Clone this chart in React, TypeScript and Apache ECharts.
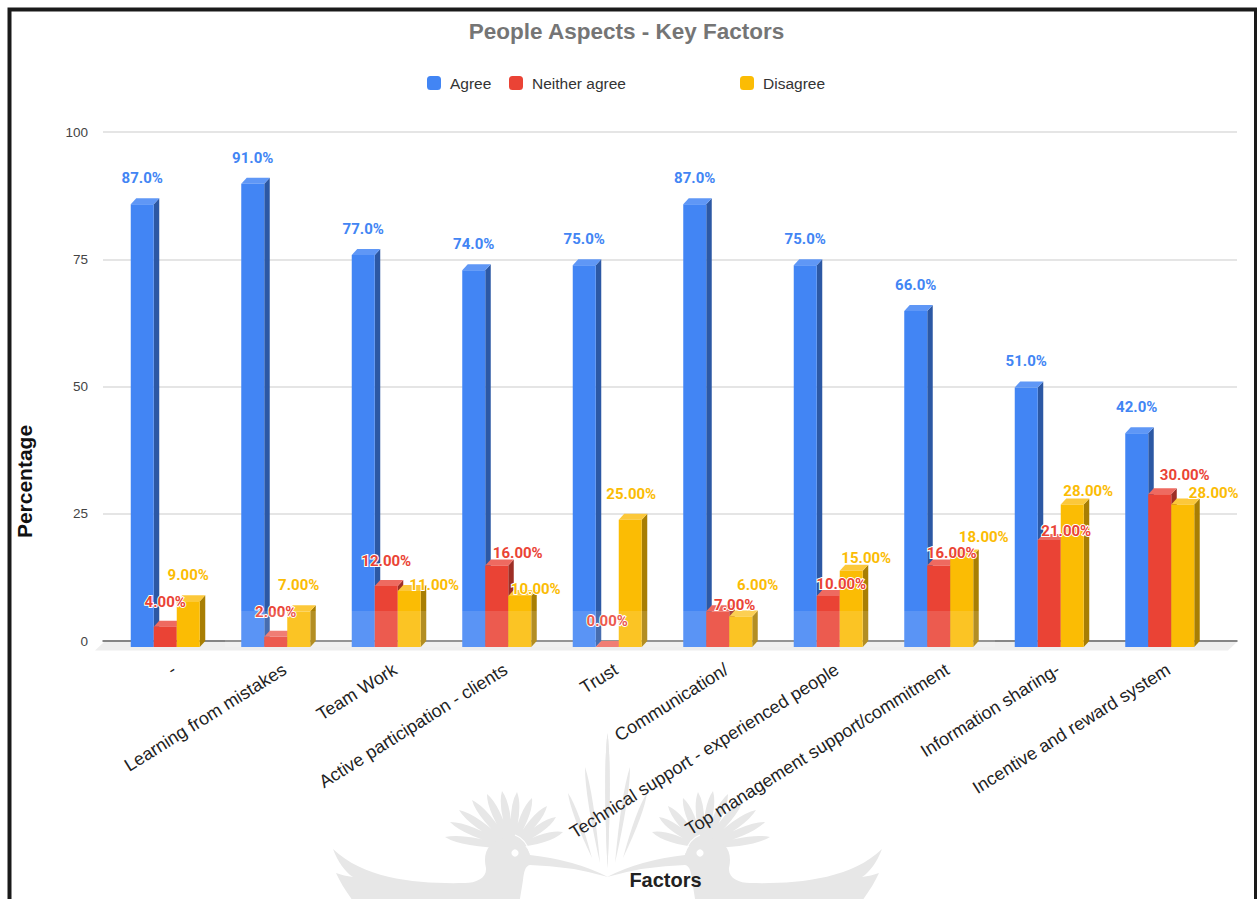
import { useEffect, useRef } from "react";
import * as echarts from "echarts";

const categories = [
  "-",
  "Learning from mistakes",
  "Team Work",
  "Active participation - clients",
  "Trust",
  "Communication/",
  "Technical support - experienced people",
  "Top management support/commitment",
  "Information sharing-",
  "Incentive and reward system",
];
const agree = [87, 91, 77, 74, 75, 87, 75, 66, 51, 42];
const neitherAgree = [4, 2, 12, 16, 0, 7, 10, 16, 21, 30];
const disagree = [9, 7, 11, 10, 25, 6, 15, 18, 28, 28];
const yTicks = { min: 0, max: 100, step: 25 };

// Value labels are pushed aside where they would collide: [dx, dy] per category.
const agreeLabelShift = categories.map(() => [0, 0]);
const neitherLabelShift = [
  [0, 1], [0, 1], [0, 1], [21, 13], [0, 0], [17, 20], [13, 14], [13, 13], [17, 17], [25, 7],
];
const disagreeLabelShift = [
  [0, 0], [0, 0], [25, 20], [16, 19], [1, 0], [17, -5], [15, 13], [22, 8], [16, 13], [31, 15],
];

const FONT = "'Liberation Sans', Arial, sans-serif";
const LABEL_FONT = "Roboto, sans-serif";

// Oblique extrusion of each bar, in pixels.
const DEPTH_X = 5.5;
const DEPTH_Y = 6;
const BAR_WIDTH = 23;

// Leaf outline running from a base point to a tip, used for the crest and the fan.
function leaf(bx: number, by: number, tx: number, ty: number, w: number) {
  const dx = tx - bx;
  const dy = ty - by;
  const len = Math.hypot(dx, dy);
  const nx = (-dy / len) * w;
  const ny = (dx / len) * w;
  const cx = bx + dx * 0.72;
  const cy = by + dy * 0.72;
  return `M${bx} ${by}Q${cx + nx} ${cy + ny} ${tx} ${ty}Q${cx - nx} ${cy - ny} ${bx} ${by}Z`;
}

const crestTips = [
  [445, 837], [450, 822], [459, 810], [472, 800], [487, 794], [502, 791],
  [517, 792], [532, 798], [547, 806], [556, 817], [563, 832],
];
const crestPath = crestTips.map(([x, y]) => leaf(512, 848, x, y, 8)).join("");
const fanPath = [
  leaf(607.5, 868, 607.5, 733, 4.5),
  leaf(600, 863, 585, 767, 4.5),
  leaf(592, 858, 568, 793, 4.5),
].join("");
const bodyPath =
  "M608 877Q575 860 530 855C529 846 518 838 505 838C490 840 482 852 486 868" +
  "C487 878 476 883 465 883C420 884 365 880 333 849C338 862 345 872 353 877" +
  "C347 876 341 875 336 873C341 884 347 893 356 905L519 905L523 880" +
  "C524 872 525 866 530 865Q570 866 608 877Z";

echarts.graphic.registerShape("hoopoeBody", echarts.graphic.extendPath(bodyPath, {}) as any);
echarts.graphic.registerShape("hoopoeCrest", echarts.graphic.extendPath(crestPath, {}) as any);
echarts.graphic.registerShape("hoopoeFan", echarts.graphic.extendPath(fanPath, {}) as any);

function watermarkBird(mirrored: boolean) {
  const fill = "#e7e7e7";
  return {
    type: "group",
    x: mirrored ? 1215 : 0,
    scaleX: mirrored ? -1 : 1,
    silent: true,
    z: -10,
    children: [
      { type: "hoopoeFan", style: { fill }, z: -10 },
      { type: "hoopoeCrest", style: { fill }, z: -10 },
      { type: "hoopoeBody", style: { fill }, z: -10 },
      {
        type: "bezierCurve",
        shape: { x1: 515, y1: 835, x2: 530, y2: 853, cpx1: 526, cpy1: 839 },
        style: { stroke: "#ffffff", lineWidth: 1.2, fill: "none" },
        z: -9,
      },
      { type: "circle", shape: { cx: 515, cy: 853, r: 3.6 }, style: { fill: "#ffffff" }, z: -9 },
    ],
  };
}

// A bar is a front face, a top and a side; the axis value marks its rear top edge.
function prismSeries(
  name: string,
  values: number[],
  labelShift: number[][],
  slot: number,
  front: string,
  top: string,
  side: string,
  digits: number,
) {
  return {
    name,
    type: "custom",
    xAxisIndex: 1,
    yAxisIndex: 1,
    z: 3,
    clip: false,
    itemStyle: { color: front },
    data: values.map((v, i) => [i, v]),
    encode: { x: 0, y: 1 },
    renderItem: (params: any, api: any) => {
      const value = api.value(1);
      const [cx, rearTop] = api.coord([api.value(0), value]);
      const [, rearBottom] = api.coord([api.value(0), 0]);
      const x1 = cx - DEPTH_X + (slot - 1.5) * BAR_WIDTH;
      const x2 = x1 + BAR_WIDTH;
      const yTop = rearTop + DEPTH_Y;
      const yBottom = rearBottom + DEPTH_Y;
      const [shiftX, shiftY] = labelShift[params.dataIndex];
      const children: any[] = [
        {
          type: "polygon",
          shape: {
            points: [
              [x2, yTop],
              [x2 + DEPTH_X, rearTop],
              [x2 + DEPTH_X, rearBottom],
              [x2, yBottom],
            ],
          },
          style: { fill: side },
        },
        {
          type: "polygon",
          shape: {
            points: [
              [x1, yTop],
              [x1 + DEPTH_X, rearTop],
              [x2 + DEPTH_X, rearTop],
              [x2, yTop],
            ],
          },
          style: { fill: top },
        },
      ];
      if (value > 0) {
        children.push({
          type: "rect",
          shape: { x: x1, y: yTop, width: BAR_WIDTH, height: yBottom - yTop },
          style: { fill: front },
        });
      }
      children.push({
        type: "text",
        z2: 100 + (slot === 1 ? 10 : slot),
        style: {
          text: `${value.toFixed(digits)}%`,
          x: x1 + BAR_WIDTH / 2 + shiftX,
          y: rearTop - 20 + shiftY,
          align: "center",
          verticalAlign: "middle",
          fill: front,
          font: `700 15px ${LABEL_FONT}`,
          stroke: slot === 0 ? undefined : "#ffffff",
          lineWidth: slot === 0 ? 0 : 2,
        },
      });
      return { type: "group", children };
    },
  };
}

export default function App() {
  const ref = useRef<HTMLDivElement>(null);

  useEffect(() => {
    const chart = echarts.init(ref.current!, undefined, { renderer: "svg" });
    const legendBase = {
      top: 75,
      icon: "roundRect",
      itemWidth: 14,
      itemHeight: 14,
      textStyle: { fontFamily: FONT, fontSize: 15.5, color: "#333333", padding: [0, 0, 0, 4] },
      selectedMode: false,
      padding: 0,
    };
    chart.setOption({
      animation: false,
      backgroundColor: "#ffffff",
      title: {
        text: "People Aspects - Key Factors",
        left: 621.5,
        top: 15,
        textAlign: "center",
        textStyle: { fontFamily: FONT, fontSize: 22.5, fontWeight: "bold", color: "#757575" },
      },
      legend: [
        { ...legendBase, left: 427, data: ["Agree"] },
        { ...legendBase, left: 509, data: ["Neither agree"] },
        { ...legendBase, left: 740, data: ["Disagree"] },
      ],
      grid: [
        { left: 103, right: 20, top: 132, bottom: 258, outerBoundsMode: "none" },
        { left: 115.5, width: 1105, top: 132, bottom: 258, outerBoundsMode: "none" },
      ],
      xAxis: [
        {
          type: "value",
          gridIndex: 0,
          min: 0,
          max: 1,
          axisLine: { show: true, onZero: true, lineStyle: { color: "#666666", width: 1.5 } },
          axisTick: { show: false },
          axisLabel: { show: false },
          splitLine: { show: false },
        },
        {
          type: "category",
          gridIndex: 1,
          data: categories,
          axisLine: { show: false },
          axisTick: { show: false },
          axisLabel: {
            interval: 0,
            rotate: 32,
            margin: 29,
            padding: [0, -4, 0, 0],
            fontFamily: FONT,
            fontSize: 18,
            color: "#222222",
          },
          name: "Factors",
          nameLocation: "middle",
          nameGap: 229,
          nameTextStyle: {
            fontFamily: FONT,
            fontSize: 20,
            fontWeight: "bold",
            color: "#222222",
            padding: [0, 5, 0, 0],
          },
        },
      ],
      yAxis: [
        {
          type: "value",
          gridIndex: 0,
          min: yTicks.min,
          max: yTicks.max,
          interval: yTicks.step,
          axisLine: { show: false },
          axisTick: { show: false },
          axisLabel: { margin: 15, fontFamily: FONT, fontSize: 13.5, color: "#444444" },
          splitLine: { lineStyle: { color: "#dddddd", width: 1.5 } },
          name: "Percentage",
          nameLocation: "middle",
          nameGap: 68,
          nameTextStyle: {
            fontFamily: FONT,
            fontSize: 21,
            fontWeight: "bold",
            color: "#111111",
            padding: [0, 190, 0, 0],
          },
        },
        {
          type: "value",
          gridIndex: 1,
          min: yTicks.min,
          max: yTicks.max,
          interval: yTicks.step,
          show: false,
        },
      ],
      series: [
        prismSeries("Agree", agree, agreeLabelShift, 0, "#4285F4", "#5F97F6", "#2C58A4", 1),
        prismSeries("Neither agree", neitherAgree, neitherLabelShift, 1, "#EA4335", "#EE6A60", "#9E2E25", 2),
        prismSeries("Disagree", disagree, disagreeLabelShift, 2, "#FBBC04", "#FCC83A", "#A87E03", 2),
      ],
      graphic: {
        elements: [
          watermarkBird(false),
          watermarkBird(true),
          // Floor under the plot
          {
            type: "polygon",
            silent: true,
            z: -5,
            shape: { points: [[104, 642], [1237, 642], [1228, 650.5], [95, 650.5]] },
            style: { fill: "#eeeeee" },
          },
          // Translucent strip over the bottom of the middle bars
          {
            type: "rect",
            silent: true,
            z: 50,
            shape: { x: 225, y: 611, width: 770, height: 36 },
            style: { fill: "rgba(255,255,255,0.13)" },
          },
          // Page frame, open at the bottom
          {
            type: "polyline",
            silent: true,
            z: 60,
            shape: { points: [[9.5, 899], [9.5, 9.5], [1256, 9.5], [1256, 899]] },
            style: { stroke: "#1a1a1a", lineWidth: 4, fill: "none" },
          },
        ],
      },
    });
    return () => chart.dispose();
  }, []);

  return <div ref={ref} style={{ position: "fixed", left: 0, top: 0, width: 1257, height: 899 }} />;
}
